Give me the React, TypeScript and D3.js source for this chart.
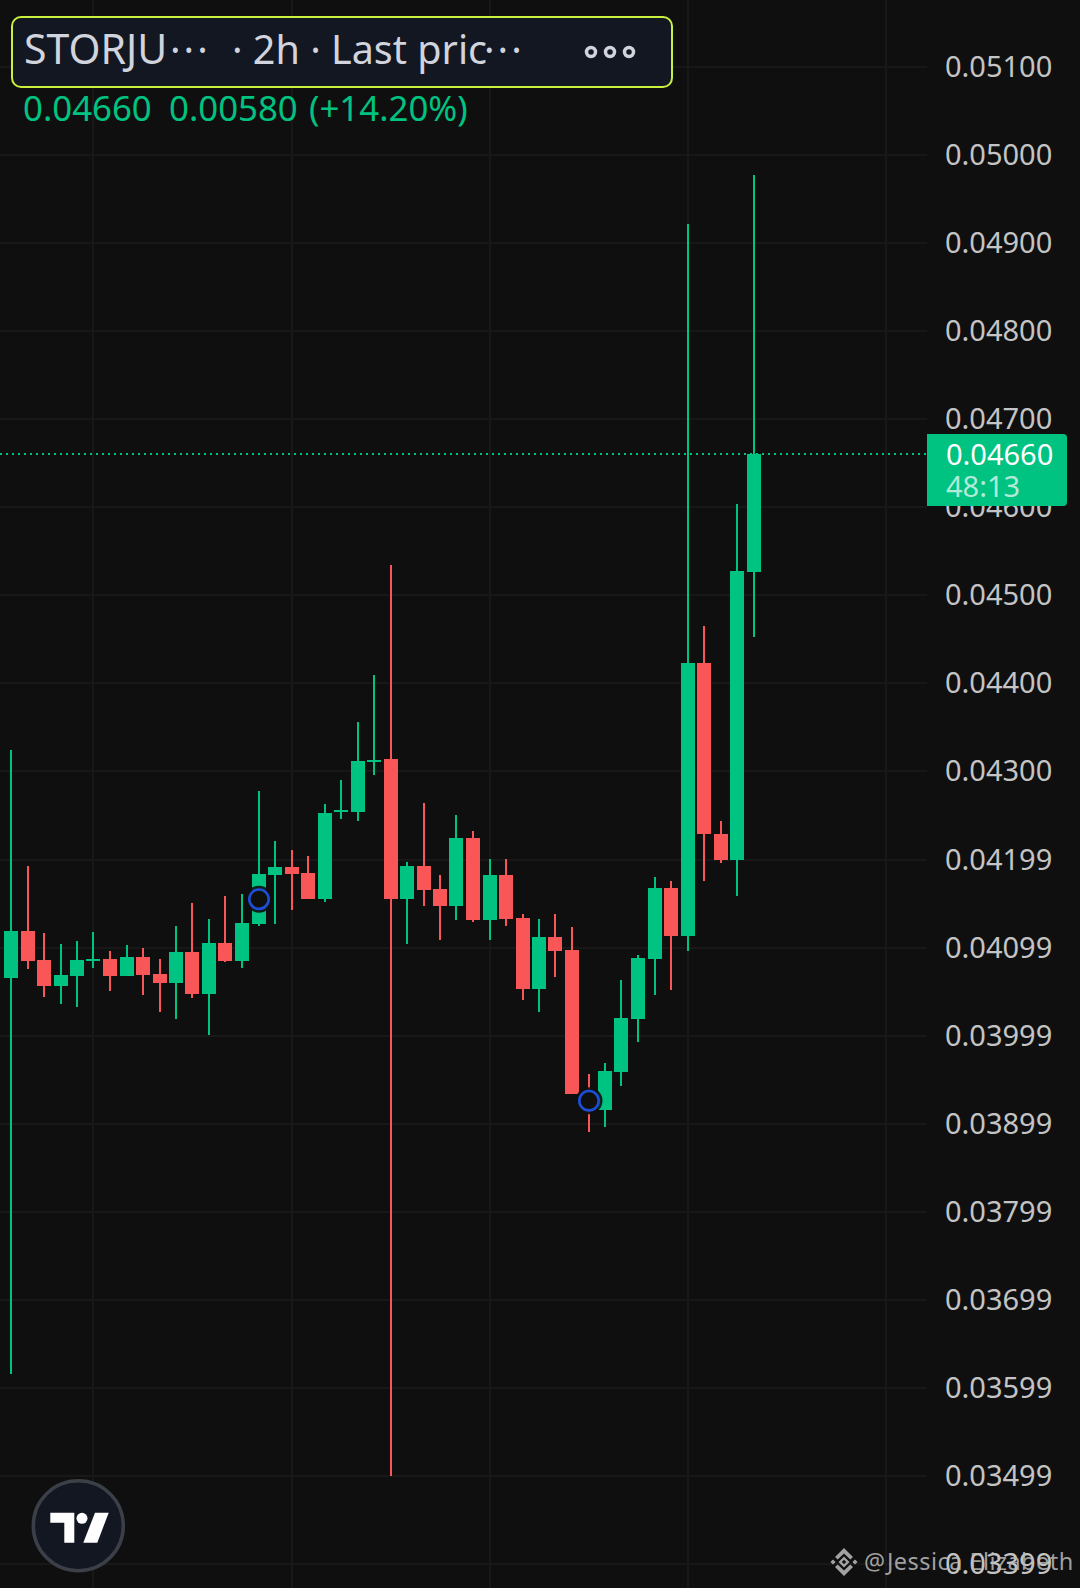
import React from 'react'
import * as d3 from 'd3'

const WIDTH = 1080
const HEIGHT = 1588
const PLOT_RIGHT = 927

const BG = '#0f0f0f'
const GRID = '#181818'
const UP = '#00c281'
const DOWN = '#f95757'
const FONT = '"Noto Sans", sans-serif'

// open, high, low, close per bar
const opens = [0.04064, 0.04118, 0.04085, 0.04055, 0.04067, 0.04084, 0.04086, 0.04067, 0.04088, 0.04069, 0.04059, 0.04094, 0.04046, 0.04104, 0.04084, 0.04126, 0.04182, 0.04191, 0.04184, 0.04154, 0.04254, 0.04253, 0.04311, 0.04313, 0.04154, 0.04192, 0.04166, 0.04146, 0.04224, 0.0413, 0.04182, 0.04133, 0.04052, 0.04111, 0.04096, 0.03933, 0.03914, 0.03958, 0.04018, 0.04086, 0.04167, 0.04112, 0.04422, 0.04228, 0.04199, 0.04526]
const highs = [0.04323, 0.04192, 0.04116, 0.04103, 0.04107, 0.04117, 0.04095, 0.04102, 0.04099, 0.04086, 0.04124, 0.0415, 0.04132, 0.04158, 0.0416, 0.04277, 0.0422, 0.0421, 0.04203, 0.04262, 0.04289, 0.04355, 0.04409, 0.04534, 0.04196, 0.04263, 0.04182, 0.0425, 0.04232, 0.042, 0.042, 0.04137, 0.04132, 0.04137, 0.04122, 0.03955, 0.03968, 0.04062, 0.04091, 0.04179, 0.04175, 0.04921, 0.04464, 0.04243, 0.04603, 0.04977]
const lows = [0.03614, 0.04075, 0.04043, 0.04035, 0.04032, 0.04076, 0.0405, 0.04067, 0.04045, 0.04026, 0.04018, 0.04042, 0.04, 0.04083, 0.04076, 0.04124, 0.04126, 0.04142, 0.04154, 0.04151, 0.04245, 0.04243, 0.04295, 0.03498, 0.04103, 0.04146, 0.04108, 0.0413, 0.04128, 0.04108, 0.04124, 0.04039, 0.04026, 0.04066, 0.03933, 0.03889, 0.03895, 0.03942, 0.03992, 0.04045, 0.04051, 0.04095, 0.04175, 0.04195, 0.04158, 0.04452]
const closes = [0.04118, 0.04084, 0.04055, 0.04068, 0.04085, 0.04086, 0.04067, 0.04088, 0.04068, 0.04059, 0.04094, 0.04046, 0.04104, 0.04084, 0.04127, 0.04183, 0.04191, 0.04183, 0.04154, 0.04252, 0.04255, 0.04311, 0.04312, 0.04154, 0.04192, 0.04164, 0.04146, 0.04224, 0.0413, 0.04182, 0.04132, 0.04052, 0.04111, 0.04095, 0.03933, 0.03921, 0.03959, 0.04019, 0.04087, 0.04167, 0.04112, 0.04422, 0.04228, 0.04199, 0.04527, 0.0466]

const priceTicks = [0.051, 0.05, 0.049, 0.048, 0.047, 0.046, 0.045, 0.044, 0.043, 0.04199, 0.04099, 0.03999, 0.03899, 0.03799, 0.03699, 0.03599, 0.03499, 0.03399]
const timeGridBars = [5, 17, 29, 41, 53]
const markers = [
  { bar: 15, price: 0.04154 },
  { bar: 35, price: 0.03925 },
]
const lastPrice = 0.0466
const countdown = '48:13'
const headerValues = ['0.04660', '0.00580', '(+14.20%)']

export default function App() {
  // 88px per 0.001, pinned on the 0.04500 line
  const y = d3.scaleLinear().domain([0.045, 0.035]).range([594.7, 1474.7])
  // 16.5px per bar
  const x = d3.scaleLinear().domain([0, 45]).range([11, 753.5])
  const fmt = d3.format('.5f')
  const px = (i: number) => Math.round(x(i))
  const py = (p: number) => Math.round(y(p))

  const candles = opens.map((open, i) => ({ i, open, high: highs[i], low: lows[i], close: closes[i] }))

  return (
    <svg
      width={WIDTH}
      height={HEIGHT}
      viewBox={`0 0 ${WIDTH} ${HEIGHT}`}
      style={{ position: 'absolute', left: 0, top: 0, background: BG, fontFamily: FONT }}
    >
      <rect width={WIDTH} height={HEIGHT} fill={BG} />

      {/* grid */}
      {priceTicks.map(t => (
        <line key={t} x1={0} x2={PLOT_RIGHT} y1={py(t)} y2={py(t)} stroke={GRID} strokeWidth={2} />
      ))}
      {timeGridBars.map(b => (
        <line key={b} x1={px(b)} x2={px(b)} y1={0} y2={HEIGHT} stroke={GRID} strokeWidth={2} />
      ))}

      {/* last price line */}
      <line
        x1={0}
        x2={PLOT_RIGHT}
        y1={py(lastPrice)}
        y2={py(lastPrice)}
        stroke={UP}
        strokeWidth={2}
        strokeDasharray="2 4"
      />

      {/* candles */}
      {candles.map(c => {
        const color = c.close >= c.open ? UP : DOWN
        const top = py(Math.max(c.open, c.close))
        const h = Math.abs(py(c.open) - py(c.close))
        return (
          <g key={c.i}>
            <line x1={px(c.i)} x2={px(c.i)} y1={py(c.high)} y2={py(c.low)} stroke={color} strokeWidth={2} />
            <rect x={px(c.i) - 7} y={top} width={14} height={Math.max(h, 2)} fill={color} />
          </g>
        )
      })}

      {/* signal markers */}
      {markers.map(m => (
        <g key={m.bar}>
          <circle cx={px(m.bar)} cy={y(m.price)} r={13.5} fill={BG} fillOpacity={0.9} />
          <circle cx={px(m.bar)} cy={y(m.price)} r={9.7} fill={BG} stroke="#1c4fd8" strokeWidth={2.6} />
        </g>
      ))}

      {/* price axis */}
      {priceTicks.map(t => (
        <text key={t} x={945} y={y(t) - 0.5} dy="0.36em" fontSize={29} fill="#c4c4c4">
          {fmt(t)}
        </text>
      ))}

      {/* last price tag */}
      <path d="M927,434H1063a4,4 0 0 1 4,4V502a4,4 0 0 1 -4,4H927Z" fill={UP} />
      <text x={946} y={455} dy="0.36em" fontSize={29} fill="#ffffff">
        {fmt(lastPrice)}
      </text>
      <text x={946} y={487} dy="0.36em" fontSize={29} fill="#ffffff" fillOpacity={0.7}>
        {countdown}
      </text>

      {/* header */}
      <rect x={12} y={17} width={660} height={70} rx={9} fill="#131722" stroke="#c8f03c" strokeWidth={2} />
      <g fontSize={39.5} fill="#d1d4dc">
        <text x={24} y={64} fontSize={41}>STORJU</text>
        <text x={170} y={64} letterSpacing={3}>···</text>
        <text x={232} y={64}>· 2h · Last pric</text>
        <text x={484} y={64} letterSpacing={3}>···</text>
      </g>
      {[591, 610, 629].map(cx => (
        <circle key={cx} cx={cx} cy={52} r={4.5} fill="none" stroke="#d1d4dc" strokeWidth={3.5} />
      ))}
      <text y={121} fontSize={34.8} fill={UP}>
        <tspan x={23}>{headerValues[0]}</tspan>
        <tspan x={169}>{headerValues[1]}</tspan>
        <tspan x={309}>{headerValues[2]}</tspan>
      </text>

      {/* logo */}
      <g transform="translate(78.3,1525.7)">
        <circle r={45} fill="#131722" stroke="#3b3f47" strokeWidth={3.5} />
        <path d="M-28,-13H-4V17H-14V-3H-28Z" fill="#ffffff" />
        <circle cx={3.7} cy={-7.4} r={5.5} fill="#ffffff" />
        <path d="M16.7,-13H30.4L19,17H5Z" fill="#ffffff" />
      </g>

      {/* watermark */}
      <g fill="#bcbcbc" fillOpacity={0.85}>
        <g transform="translate(844,1562)">
          <path
            fillRule="evenodd"
            d="M0,-5.5L5.5,0L0,5.5L-5.5,0Z M0,-2.2L-2.2,0L0,2.2L2.2,0Z M0,-14L9,-5L6.3,-2.4L0,-8.6L-6.3,-2.4L-9,-5Z M0,14L9,5L6.3,2.4L0,8.6L-6.3,2.4L-9,5Z M-11,-2.6L-8.4,0L-11,2.6L-13.6,0Z M11,-2.6L13.6,0L11,2.6L8.4,0Z"
          />
        </g>
        <text y={1562} dy="0.36em" fontSize={23.5}>
          <tspan x={864}>@</tspan>
          <tspan x={887} letterSpacing={0.45}>Jessica Elizabeth</tspan>
        </text>
      </g>
    </svg>
  )
}
